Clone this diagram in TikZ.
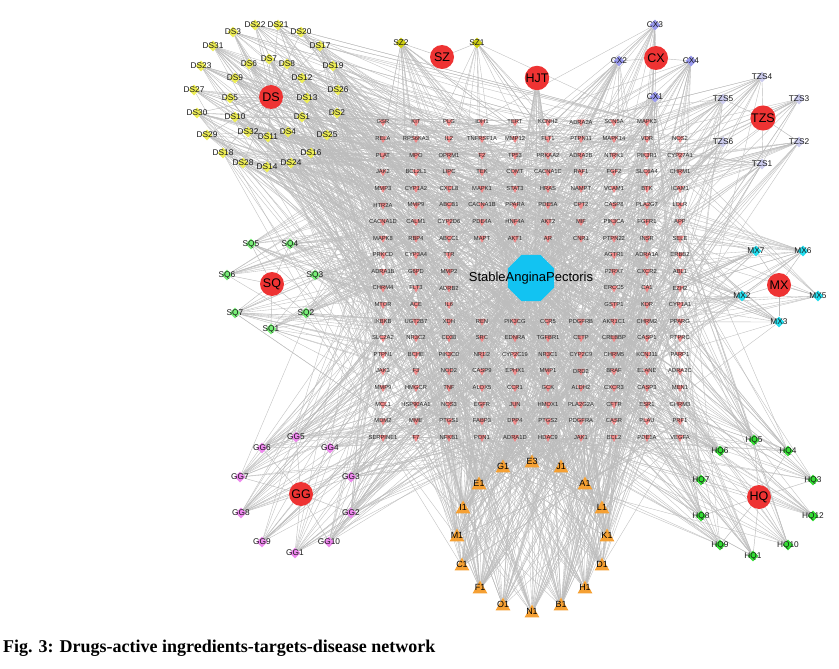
\documentclass[tikz,border=0pt]{standalone}
\usepackage{fontspec}
\setmainfont{Liberation Sans}
\newfontfamily\capfont{Liberation Serif}
\usetikzlibrary{shapes.geometric,backgrounds}
\definecolor{hubred}{HTML}{EE3333}
\definecolor{dsyel}{HTML}{EEEE55}
\definecolor{szyel}{HTML}{CCCC11}
\definecolor{cxblue}{HTML}{9999EE}
\definecolor{tzsblue}{HTML}{CCCCEE}
\definecolor{sqgreen}{HTML}{77EE77}
\definecolor{hqgreen}{HTML}{33DD33}
\definecolor{mxcyan}{HTML}{22DDEE}
\definecolor{ggpink}{HTML}{EE88EE}
\definecolor{triorange}{HTML}{F5A033}
\definecolor{tgtred}{HTML}{F08888}
\definecolor{discyan}{HTML}{12C3F2}
\definecolor{edgegray}{HTML}{BDBDBD}
\newcommand\trow[3]{%
  \foreach \nm [count=\i from #2] in {#3} {%
    \node[tgt,label={[tlab]center:\nm}] (t-#1-\i) at ({383+(\i-1)*33},{122+(#1-1)*16.6}) {};}}
\begin{document}
\begin{tikzpicture}[x=1pt,y=-1pt,
  hub/.style={circle,fill=hubred,minimum size=24pt,inner sep=0pt,font=\fontsize{12.5}{12.5}\selectfont},
  ingd/.style={diamond,minimum size=11pt,inner sep=0pt},
  ilab/.style={font=\fontsize{8.3}{8.3}\selectfont,inner sep=0pt,text=black!90},
  tri/.style={regular polygon,regular polygon sides=3,fill=triorange,minimum size=17pt,inner sep=0pt},
  trilab/.style={font=\fontsize{9}{9}\selectfont,inner sep=0pt,yshift=1.5pt},
  tgt/.style={regular polygon,regular polygon sides=3,shape border rotate=180,fill=tgtred,minimum size=9pt,inner sep=0pt},
  tlab/.style={font=\fontsize{5.8}{5.8}\selectfont,inner sep=0pt,text=black!85},
  edge/.style={draw=edgegray,line width=0.35pt},
  hubedge/.style={draw=edgegray,line width=0.45pt}]
\useasboundingbox (0,0) rectangle (839,669);
% disease
\node[regular polygon,regular polygon sides=8,fill=discyan,minimum size=50pt,inner sep=0pt] (disease) at (531,278) {};
\node[font=\fontsize{13}{13}\selectfont,inner sep=0pt] (diseaselabel) at (531,278) {StableAnginaPectoris};
% targets
\trow{1}{1}{GSR,KIT,PLG,IDH1,TERT,KCNH2,ADRA2A,SCN5A,MAPK3}
\trow{2}{1}{RELA,RPS6KA3,IL2,TNFRSF1A,MMP12,FLT1,PTPN11,MAPK14,VDR,NOS2}
\trow{3}{1}{PLAT,MPO,OPRM1,F2,TP53,PRKAA2,ADRA2B,NTRK1,PIK3R1,CYP27A1}
\trow{4}{1}{JAK2,BCL2L1,LIPC,TEK,COMT,CACNA1C,RAF1,FGF2,SLC6A4,CHRM1}
\trow{5}{1}{MMP3,CYP1A2,CXCL8,MAPK1,STAT3,HRAS,NAMPT,VCAM1,BTK,ICAM1}
\trow{6}{1}{HTR2A,MMP9,ABCB1,CACNA1B,PPARA,PDE5A,CPT2,CASP8,PLA2G7,LDLR}
\trow{7}{1}{CACNA1D,CALM1,CYP2D6,PDE4A,HNF4A,AKT2,MIF,PIK3CA,FGFR1,APP}
\trow{8}{1}{MAPK8,RBP4,ABCC1,MAPT,AKT1,AR,CNR1,PTPN22,INSR,SELE}
\trow{9}{1}{PRKCD,CYP3A4,TTR}
\trow{9}{8}{AGTR1,ADRA1A,ERBB2}
\trow{10}{1}{ADRA1B,G6PD,MMP2}
\trow{10}{8}{P2RX7,CXCR2,ABL1}
\trow{11}{1}{CHRM4,FLT3,ADRB2}
\trow{11}{8}{ERCC5,CA1,EZH2}
\trow{12}{1}{MTOR,ACE,IL6}
\trow{12}{8}{GSTP1,KDR,CYP1A1}
\trow{13}{1}{IKBKB,UGT2B7,XDH,REN,PIK3CG,CCR5,PDGFRB,AKR1C1,CHRM2,PPARG}
\trow{14}{1}{SLC2A2,NR3C2,CD38,SRC,EDNRA,TGFBR1,CETP,CREBBP,CASP1,PTPRC}
\trow{15}{1}{PTPN1,BCHE,PIK3CD,NR1I2,CYP2C19,NR3C1,CYP2C9,CHRM5,KCNJ11,PARP1}
\trow{16}{1}{JAK3,F3,NOD2,CASP9,EPHX1,MMP1,DRD2,BRAF,ELANE,ADRA2C}
\trow{17}{1}{MMP9,HMGCR,TNF,ALOX5,CCR1,GCK,ALDH2,CXCR3,CASP3,MEN1}
\trow{18}{1}{MCL1,HSP90AA1,NOS3,EGFR,JUN,HMOX1,PLA2G2A,CFTR,ESR1,CHRM3}
\trow{19}{1}{MDM2,MME,PTGS1,FABP3,DPP4,PTGS2,PDGFRA,CASR,PLAU,PRF1}
\trow{20}{1}{SERPINE1,F7,NFKB1,PON1,ADRA1D,HDAC9,JAK1,BCL2,PDE1A,VEGFA}
% hubs
\node[hub] (DS) at (271,97) {DS};
\node[hub] (SZ) at (442,57) {SZ};
\node[hub] (HJT) at (537,78) {HJT};
\node[hub] (CX) at (656,58) {CX};
\node[hub] (TZS) at (763,118) {TZS};
\node[hub] (SQ) at (272,284) {SQ};
\node[hub] (MX) at (779,285) {MX};
\node[hub] (GG) at (301,494) {GG};
\node[hub] (HQ) at (759,497) {HQ};
% ingredients
\foreach \nm/\x/\y in {DS22/255/25,DS21/278/25,DS3/233/32,DS20/301/32,DS31/213/46,DS17/320/46,DS6/249/64,DS7/269/59,DS8/287/64,DS23/201/66,DS19/333/66,DS9/235/78,DS12/302/78,DS27/194/90,DS26/338/90,DS5/230/98,DS13/307/98,DS30/197/113,DS2/337/113,DS10/235/117,DS1/302/117,DS32/248/132,DS4/288/132,DS11/268/137,DS29/207/135,DS25/327/135,DS18/223/153,DS16/311/153,DS28/243/163,DS24/291/163,DS14/267/167}
  {\node[ingd,fill=dsyel,label={[ilab]center:\nm}] (\nm) at (\x,\y) {};}
\foreach \nm/\x/\y in {SZ2/401/43,SZ1/477/43}
  {\node[ingd,fill=szyel,label={[ilab]center:\nm}] (\nm) at (\x,\y) {};}
\foreach \nm/\x/\y in {CX3/655/25,CX2/619/61,CX4/691/61,CX1/655/97}
  {\node[ingd,fill=cxblue,label={[ilab]center:\nm}] (\nm) at (\x,\y) {};}
\foreach \nm/\x/\y in {TZS4/762/77,TZS5/723/99,TZS3/799/99,TZS6/723/142,TZS2/799/142,TZS1/762/164}
  {\node[ingd,fill=tzsblue,label={[ilab]center:\nm}] (\nm) at (\x,\y) {};}
\foreach \nm/\x/\y in {SQ5/251/244,SQ4/290/244,SQ6/227/275,SQ3/315/275,SQ7/235/313,SQ2/306/313,SQ1/271/329}
  {\node[ingd,fill=sqgreen,label={[ilab]center:\nm}] (\nm) at (\x,\y) {};}
\foreach \nm/\x/\y in {MX7/756/251,MX6/803/251,MX2/742/296,MX5/818/296,MX3/779/322}
  {\node[ingd,fill=mxcyan,label={[ilab]center:\nm}] (\nm) at (\x,\y) {};}
\foreach \nm/\x/\y in {GG5/296/437,GG6/262/448,GG4/330/448,GG7/240/477,GG3/351/477,GG8/241/513,GG2/351/513,GG9/262/542,GG10/329/542,GG1/295/553}
  {\node[ingd,fill=ggpink,label={[ilab]center:\nm}] (\nm) at (\x,\y) {};}
\foreach \nm/\x/\y in {HQ5/754/440,HQ6/720/451,HQ4/788/451,HQ7/701/480,HQ3/813/480,HQ8/701/516,HQ12/813/516,HQ9/720/545,HQ10/788/545,HQ1/753/556}
  {\node[ingd,fill=hqgreen,label={[ilab]center:\nm}] (\nm) at (\x,\y) {};}
\foreach \nm/\x/\y in {G1/503/466,E3/532/461,J1/561/466,E1/479/483,A1/585/483,I1/463/507,L1/602/507,M1/457/535,K1/607/535,C1/462/564,D1/602/564,F1/480/587,H1/585/587,O1/503/604,N1/532/611,B1/561/604}
  {\node[tri,label={[trilab]center:\nm}] (\nm) at (\x,\y+2) {};}
% caption
\node[anchor=west,inner sep=0pt,font=\capfont\bfseries\fontsize{18}{18}\selectfont] (caption) at (3,648) {Fig. 3: Drugs-active ingredients-targets-disease network};
% edges
\begin{scope}[on background layer]
\fill[white] (0,0) rectangle (839,669);
\pgfmathsetseed{11}
\foreach \s in {DS22,DS21,DS3,DS20,DS31,DS17,DS6,DS7,DS8,DS23,DS19,DS9,DS12,DS27,DS26,DS5,DS13,DS30,DS2,DS10,DS1,DS32,DS4,DS11,DS29,DS25,DS18,DS16,DS28,DS24,DS14} {\draw[hubedge] (DS) -- (\s);}
\foreach \s in {SZ2,SZ1} {\draw[hubedge] (SZ) -- (\s);}
\foreach \s in {CX3,CX2,CX4,CX1} {\draw[hubedge] (CX) -- (\s);}
\foreach \s in {TZS4,TZS5,TZS3,TZS6,TZS2,TZS1} {\draw[hubedge] (TZS) -- (\s);}
\foreach \s in {SQ5,SQ4,SQ6,SQ3,SQ7,SQ2,SQ1} {\draw[hubedge] (SQ) -- (\s);}
\foreach \s in {MX7,MX6,MX2,MX5,MX3} {\draw[hubedge] (MX) -- (\s);}
\foreach \s in {GG5,GG6,GG4,GG7,GG3,GG8,GG2,GG9,GG10,GG1} {\draw[hubedge] (GG) -- (\s);}
\foreach \s in {HQ5,HQ6,HQ4,HQ7,HQ3,HQ8,HQ12,HQ9,HQ10,HQ1} {\draw[hubedge] (HQ) -- (\s);}
\foreach \s in {G1,E3,J1,E1,A1,I1,L1,M1,K1,C1,D1,F1,H1,O1,N1,B1} {\draw[hubedge] (HJT) -- (\s);}
\foreach \s/\n in {DS22/12,DS21/12,DS3/14,DS20/10,DS31/16,DS17/12,DS6/10,DS7/14,DS8/12,DS23/14,DS19/12,DS9/10,DS12/14,DS27/12,DS26/14,DS5/10,DS13/14,DS30/16,DS2/16,DS10/12,DS1/16,DS32/12,DS4/16,DS11/14,DS29/14,DS25/16,DS18/14,DS16/16,DS28/12,DS24/16,DS14/14,
  SZ2/25,SZ1/15,CX3/20,CX2/22,CX4/22,CX1/24,TZS4/16,TZS5/18,TZS3/12,TZS6/18,TZS2/16,TZS1/16,
  SQ5/16,SQ4/18,SQ6/12,SQ3/18,SQ7/18,SQ2/16,SQ1/12,MX7/16,MX6/18,MX2/18,MX5/10,MX3/14,
  GG5/20,GG6/14,GG4/12,GG7/14,GG3/22,GG8/16,GG2/18,GG9/12,GG10/16,GG1/14,
  HQ5/16,HQ6/20,HQ4/14,HQ7/18,HQ3/12,HQ8/16,HQ12/12,HQ9/14,HQ10/12,HQ1/14,
  G1/30,E3/30,J1/30,E1/32,A1/32,I1/34,L1/32,M1/30,K1/30,C1/32,D1/28,F1/40,H1/30,O1/28,N1/30,B1/38}
{\foreach \k in {1,...,\n} {%
  \pgfmathrandominteger{\rr}{1}{20}\pgfmathrandominteger{\cr}{1}{10}%
  \pgfmathtruncatemacro\cc{(\rr>8 && \rr<13 && \cr>3 && \cr<8) ? (\cr<6 ? \cr-3 : \cr+3) : ((\rr==1 && \cr==10) ? 9 : \cr)}%
  \draw[edge] (\s) -- (t-\rr-\cc);}}
\foreach \r in {1,...,20} {\foreach \c in {1,...,10} {%
  \pgfmathtruncatemacro\ok{(\r>8 && \r<13 && \c>3 && \c<8) || (\r==1 && \c==10) ? 0 : 1}%
  \ifnum\ok=1 \draw[edge] (t-\r-\c) -- (disease);\fi}}
\end{scope}
\end{tikzpicture}
\end{document}
